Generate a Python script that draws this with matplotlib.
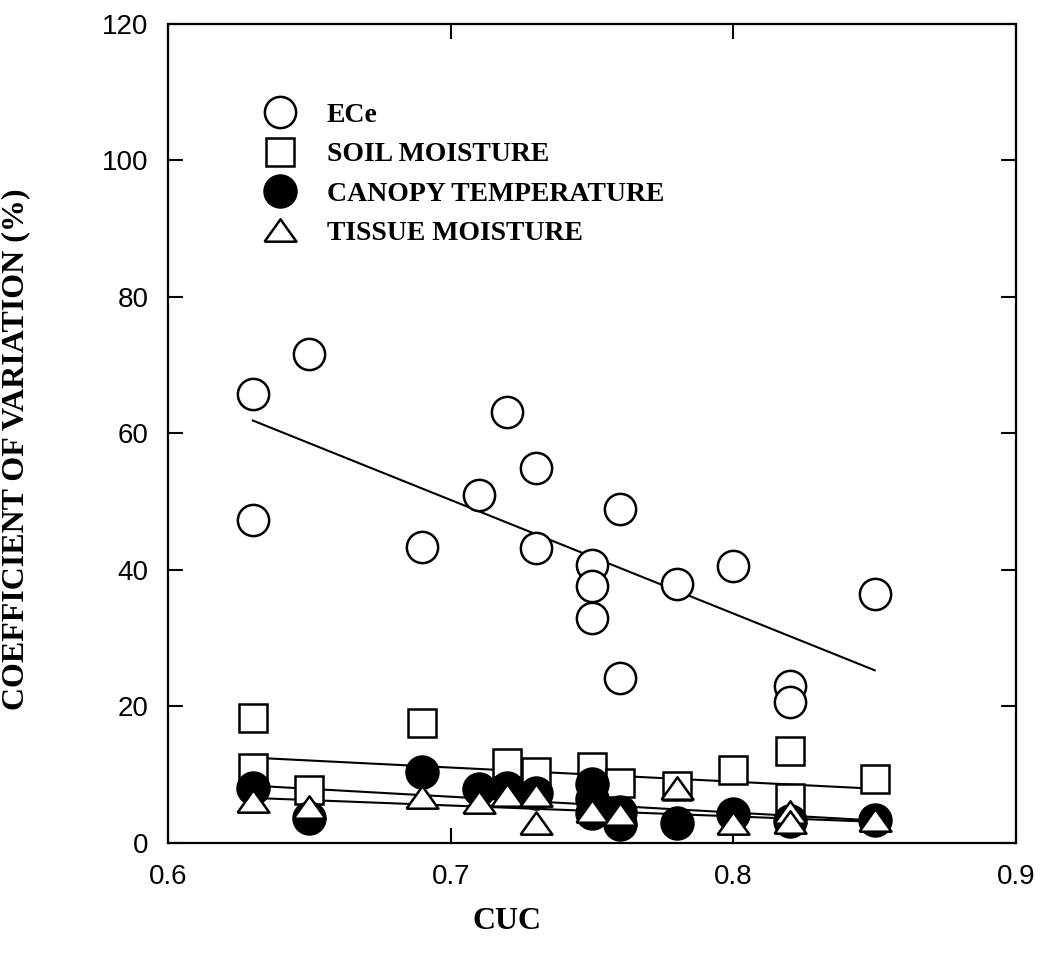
import numpy as np
import matplotlib.pyplot as plt

plt.rcParams['font.family'] = ['Liberation Sans', 'DejaVu Sans']

# values
ece_x = [0.63, 0.63, 0.65, 0.69, 0.71, 0.72, 0.73, 0.73, 0.75, 0.75, 0.75,
         0.76, 0.76, 0.78, 0.80, 0.82, 0.82, 0.85]
ece_y = [65.8, 47.3, 71.7, 43.4, 51.0, 63.2, 55.0, 43.2, 40.7, 37.7, 32.9,
         49.0, 24.1, 37.9, 40.6, 23.0, 20.7, 36.5]

soil_x = [0.63, 0.63, 0.65, 0.69, 0.72, 0.73, 0.75, 0.76, 0.78, 0.80, 0.82, 0.82, 0.85]
soil_y = [18.3, 11.0, 7.7, 17.6, 11.7, 10.4, 11.2, 8.8, 8.4, 10.7, 13.5, 6.6, 9.4]

canopy_x = [0.63, 0.65, 0.69, 0.71, 0.72, 0.73, 0.75, 0.75, 0.75, 0.76, 0.76,
            0.78, 0.80, 0.82, 0.85]
canopy_y = [8.0, 3.6, 10.4, 7.9, 8.0, 7.3, 8.6, 6.5, 4.4, 4.6, 2.8,
            2.9, 4.2, 3.2, 3.3]

tissue_x = [0.63, 0.65, 0.69, 0.71, 0.72, 0.73, 0.73, 0.75, 0.76, 0.78, 0.80, 0.82, 0.82, 0.85]
tissue_y = [6.1, 5.3, 6.8, 6.0, 7.0, 7.0, 2.9, 4.7, 4.2, 8.0, 2.9, 4.6, 3.1, 3.4]

# regression lines (end points)
trend_x = [0.63, 0.85]
ece_fit = [61.9, 25.3]
soil_fit = [12.5, 7.95]
canopy_fit = [8.4, 3.3]
tissue_fit = [6.6, 3.1]

labels = ['ECe', 'SOIL MOISTURE', 'CANOPY TEMPERATURE', 'TISSUE MOISTURE']

fig = plt.figure(figsize=(10.49, 9.6), dpi=100)
ax = fig.add_axes([0.1602, 0.1219, 0.8084, 0.8531])

for fit in [ece_fit, soil_fit, canopy_fit, tissue_fit]:
    ax.plot(trend_x, fit, color='black', lw=1.5, zorder=1)

# wide, flat triangle like the original
tri = [(-1, -0.7), (1, -0.7), (0, 0.7), (-1, -0.7)]
ax.plot(ece_x, ece_y, 'o', ms=22.5, mfc='white', mec='black', mew=1.8,
        ls='none', label=labels[0], zorder=2)
ax.plot(soil_x, soil_y, 's', ms=19.5, mfc='white', mec='black', mew=1.8,
        ls='none', label=labels[1], zorder=3)
ax.plot(canopy_x, canopy_y, 'o', ms=23, mfc='black', mec='black', mew=1.8,
        ls='none', label=labels[2], zorder=4)
ax.plot(tissue_x, tissue_y, marker=tri, ms=23, mfc='white', mec='black', mew=1.8,
        ls='none', label=labels[3], zorder=5)

ax.set_xlim(0.6, 0.9)
ax.set_ylim(0, 120)
ax.set_xticks([0.6, 0.7, 0.8, 0.9])
ax.set_xticklabels(['0.6', '0.7', '0.8', '0.9'])
ax.set_yticks([0, 20, 40, 60, 80, 100, 120])

for s in ax.spines.values():
    s.set_linewidth(1.6)
ax.tick_params(direction='in', length=11, width=1.5, top=True, right=True,
               labelsize=20, colors='black')
ax.tick_params(axis='x', pad=15)
ax.tick_params(axis='y', pad=14)

serif = {'family': 'Liberation Serif', 'weight': 'bold'}
ax.set_ylabel('COEFFICIENT OF VARIATION (%)', fontdict=dict(serif, size=23))
ax.yaxis.set_label_coords(-0.162, 0.481)
ax.set_xlabel('CUC', fontdict=dict(serif, size=23))
ax.xaxis.set_label_coords(0.40, -0.078)

ax.legend(loc='upper left', bbox_to_anchor=(0.099, 0.904), frameon=False,
          prop={'family': 'Liberation Serif', 'weight': 'bold', 'size': 20},
          handlelength=2.0, handletextpad=0.7, labelspacing=0.5,
          borderpad=0, borderaxespad=0, numpoints=1)

fig.savefig('out.png', dpi=100)
